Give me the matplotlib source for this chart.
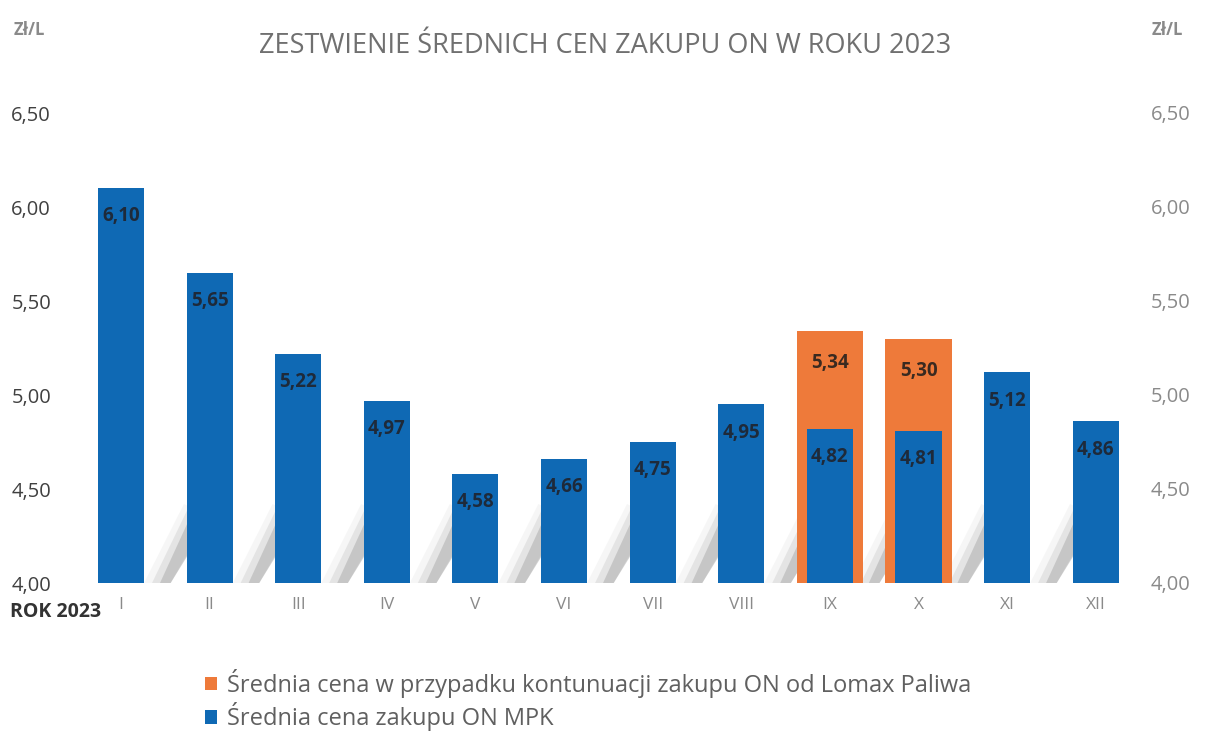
import matplotlib
matplotlib.use("Agg")
import matplotlib.pyplot as plt
from matplotlib.patches import Polygon
import numpy as np

months = ["I", "II", "III", "IV", "V", "VI", "VII", "VIII", "IX", "X", "XI", "XII"]
mpk = [6.10, 5.65, 5.22, 4.97, 4.58, 4.66, 4.75, 4.95, 4.82, 4.81, 5.12, 4.86]
lomax = [None, None, None, None, None, None, None, None, 5.34, 5.30, None, None]
yticks = [4.00, 4.50, 5.00, 5.50, 6.00, 6.50]

title = "ZESTWIENIE ŚREDNICH CEN ZAKUPU ON W ROKU 2023"
unit = "Zł/L"
lab_lomax = "Średnia cena w przypadku kontunuacji zakupu ON od Lomax Paliwa"
lab_mpk = "Średnia cena zakupu ON MPK"

BLUE = "#0F69B4"
ORANGE = "#EE7A3A"

plt.rcParams['font.family'] = ['Open Sans', 'DejaVu Sans']

fig = plt.figure(figsize=(12.09, 7.44), dpi=100)
W, H = 1209, 744
ax_l, ax_r, ax_t, ax_b = 90, 1140, 113, 583
ax = fig.add_axes([ax_l / W, 1 - ax_b / H, (ax_r - ax_l) / W, (ax_b - ax_t) / H])
ax.set_xlim(-0.35, 11.5)
ax.set_ylim(4.0, 6.5)

x = np.arange(len(months))

# soft shadow streaks between bars (decorative)
for i in range(len(months) - 1):
    xs = i + 0.26
    for k, (a, c) in enumerate([(0.18, "#d0d0d0"), (0.25, "#b0b0b0"), (0.35, "#909090")]):
        w = 0.30 - 0.09 * k
        poly = Polygon([(xs + 0.09 * k, 4.0), (xs + 0.09 * k + w, 4.0),
                        (xs + 0.55 + 0.05 * k + w * 0.6, 4.36 - 0.02 * k),
                        (xs + 0.45 + 0.05 * k, 4.42 - 0.02 * k)],
                       closed=True, facecolor=c, edgecolor="none", alpha=a, zorder=0.5)
        ax.add_patch(poly)

lx = [i for i, v in enumerate(lomax) if v is not None]
lv = [v for v in lomax if v is not None]
ax.bar(lx, [v - 4.0 for v in lv], bottom=4.0, width=0.75, color=ORANGE, zorder=1, label=lab_lomax)
ax.bar(x, [v - 4.0 for v in mpk], bottom=4.0, width=0.52, color=BLUE, zorder=2, label=lab_mpk)

def fmt(v):
    return f"{v:.2f}".replace(".", ",")

for i, v in enumerate(mpk):
    ax.text(i, v - 0.15, fmt(v), ha="center", va="center", fontsize=13.5,
            fontweight="bold", color="#1e2a3a", zorder=3)
for i, v in zip(lx, lv):
    ax.text(i, v - 0.17, fmt(v), ha="center", va="center", fontsize=13.5,
            fontweight="bold", color="#3a2a20", zorder=3)

for s in ax.spines.values():
    s.set_visible(False)
ax.set_yticks(yticks)
ax.set_yticklabels([fmt(t) for t in yticks])
ax.tick_params(axis="y", length=0, pad=28, labelsize=14.5, labelcolor="#404040")

ax2 = ax.twinx()
ax2.set_ylim(4.0, 6.5)
ax2.set_yticks(yticks)
ax2.set_yticklabels([fmt(t) for t in yticks])
ax2.tick_params(axis="y", length=0, pad=8, labelsize=14.5, labelcolor="#8a8a8a")
for s in ax2.spines.values():
    s.set_visible(False)

ax.set_xticks(x)
ax.set_xticklabels(months)
ax.tick_params(axis="x", length=0, pad=10, labelsize=12.5, labelcolor="#8a8a8a")

fig.text(10 / W, 1 - 612 / H, "ROK 2023", ha="left", va="center", fontsize=14,
         fontweight="bold", color="#333333")
fig.text(605 / W, 1 - 46 / H, title, ha="center", va="center", fontsize=19.5, color="#707070")
fig.text(14 / W, 1 - 30 / H, unit, ha="left", va="center", fontsize=12,
         fontweight="bold", color="#8a8a8a")
fig.text(1152 / W, 1 - 30 / H, unit, ha="left", va="center", fontsize=12,
         fontweight="bold", color="#8a8a8a")

handles, labels = ax.get_legend_handles_labels()
leg = fig.legend(handles, labels, loc="upper left", bbox_to_anchor=(205 / W, 1 - 669 / H),
                 frameon=False, fontsize=17, labelcolor="#606060", handlelength=0.5,
                 handleheight=0.5, handletextpad=0.45, labelspacing=0.18,
                 borderpad=0, borderaxespad=0)

fig.savefig("out.png", dpi=100)
